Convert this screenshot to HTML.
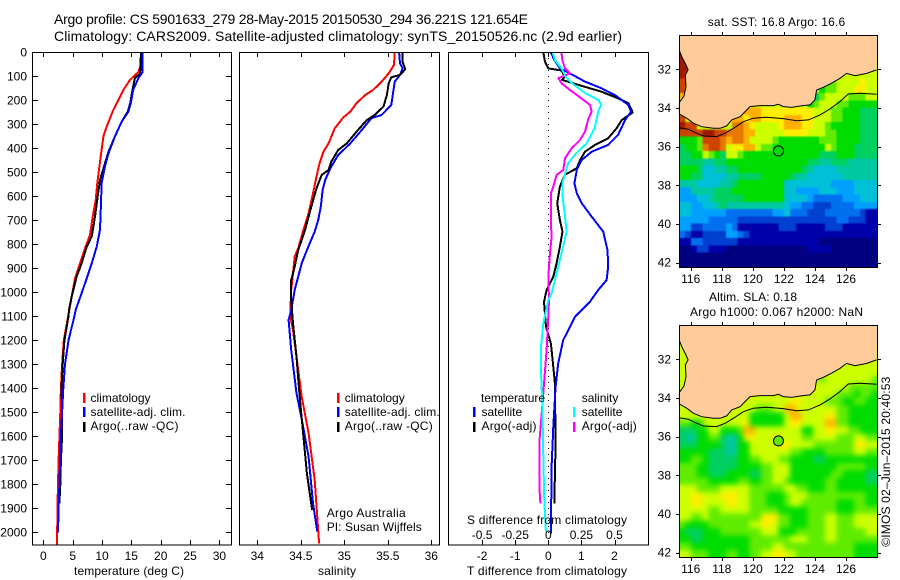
<!DOCTYPE html>
<html lang="en">
<head>
<meta charset="utf-8">
<title>Argo profile CS 5901633_279</title>
<style>
html,body{margin:0;padding:0;background:#fff;}
svg{display:block;}
text{font-family:"Liberation Sans",sans-serif;font-size:12px;fill:#000;}
</style>
</head>
<body>
<svg id="fig" width="900" height="580" viewBox="0 0 900 580" xmlns="http://www.w3.org/2000/svg">
<defs>
<filter id="sla-soften" x="0" y="0" width="1" height="1" color-interpolation-filters="sRGB"><feGaussianBlur stdDeviation="2.6" result="b"/><feMerge><feMergeNode in="SourceGraphic"/><feMergeNode in="b"/></feMerge></filter>
<filter id="sst-soften" x="0" y="0" width="1" height="1" color-interpolation-filters="sRGB"><feGaussianBlur stdDeviation="0.9" result="b"/><feMerge><feMergeNode in="SourceGraphic"/><feMergeNode in="b"/></feMerge></filter>
</defs>
<rect x="0" y="0" width="900" height="580" fill="#fff"/>
<text x="54" y="24" textLength="474" lengthAdjust="spacing" style="font-size:14px">Argo profile: CS 5901633_279 28-May-2015 20150530_294 36.221S 121.654E</text>
<text x="54" y="41" textLength="568" lengthAdjust="spacing" style="font-size:14px">Climatology: CARS2009. Satellite-adjusted climatology: synTS_20150526.nc (2.9d earlier)</text>

<g id="maps"></g>
<g id="plots"></g>
<g id="axes"></g>

<text x="74" y="575" textLength="110" lengthAdjust="spacing">temperature (deg C)</text>
<text x="318" y="575" textLength="38" lengthAdjust="spacing">salinity</text>
<text x="467" y="575" textLength="160" lengthAdjust="spacing">T difference from climatology</text>
<text x="467" y="524" textLength="160" lengthAdjust="spacing">S difference from climatology</text>

<g>
<rect x="83" y="393" width="2.5" height="10" fill="#f00"/>
<rect x="83" y="407" width="2.5" height="10" fill="#00f"/>
<rect x="83" y="422" width="2.5" height="10" fill="#000"/>
<text x="90.5" y="402">climatology</text>
<text x="90.5" y="416" textLength="95" lengthAdjust="spacing">satellite-adj. clim.</text>
<text x="90.5" y="430" textLength="88" lengthAdjust="spacing">Argo(..raw -QC)</text>
</g>
<g>
<rect x="337" y="393" width="2.5" height="10" fill="#f00"/>
<rect x="337" y="407" width="2.5" height="10" fill="#00f"/>
<rect x="337" y="422" width="2.5" height="10" fill="#000"/>
<text x="344.7" y="402">climatology</text>
<text x="344.7" y="416" textLength="95" lengthAdjust="spacing">satellite-adj. clim.</text>
<text x="344.7" y="430" textLength="88" lengthAdjust="spacing">Argo(..raw -QC)</text>
<text x="326.7" y="517" textLength="79" lengthAdjust="spacing">Argo Australia</text>
<text x="326.7" y="531" textLength="95" lengthAdjust="spacing">PI: Susan Wijffels</text>
</g>
<g>
<text x="481" y="402" textLength="64" lengthAdjust="spacing">temperature</text>
<rect x="473" y="407" width="2.5" height="10" fill="#00f"/>
<rect x="473" y="422" width="2.5" height="10" fill="#000"/>
<text x="481.5" y="416">satellite</text>
<text x="481.5" y="430" textLength="55" lengthAdjust="spacing">Argo(-adj)</text>
<text x="581.7" y="402">salinity</text>
<rect x="573" y="407" width="2.5" height="10" fill="#0ff"/>
<rect x="573" y="422" width="2.5" height="10" fill="#f0f"/>
<text x="581.7" y="416">satellite</text>
<text x="581.7" y="430" textLength="55" lengthAdjust="spacing">Argo(-adj)</text>
</g>

<text x="707.7" y="26" textLength="137.5" lengthAdjust="spacing">sat. SST: 16.8 Argo: 16.6</text>
<text x="709" y="301" textLength="88" lengthAdjust="spacing">Altim. SLA: 0.18</text>
<text x="690" y="316" textLength="173" lengthAdjust="spacing">Argo h1000: 0.067 h2000: NaN</text>
<text transform="translate(890,546.7) rotate(-90)" textLength="170" lengthAdjust="spacing">©IMOS 02–Jun–2015 20:40:53</text>
</svg>

<script>
/* ---------- temperature profiles ---------- */
const tempClimDepth = [0,50,83,115,157,199,240,282,317,351,407,476,546,615,685,761,817,879,942,1018,1074,1200,1300,1400,1500,1700,1900,2053];
const tempClimValue = [16.65,16.65,16.19,14.77,13.64,12.78,11.93,11.25,10.68,10.23,9.94,9.55,9.2,8.92,8.41,7.95,7.1,6.25,5.4,4.83,4.43,3.5,3.2,3.0,2.9,2.6,2.4,2.35];
const tempSatDepth = [0,83,108,157,212,247,289,351,421,476,546,629,740,810,879,942,1004,1074,1100,1200,1300,1400,1500,1600,1700,1800,1900,2000];
const tempSatValue = [16.9,16.9,16.2,15.3,14.9,14.5,13.35,12.2,11.1,10.5,9.94,9.83,9.66,9.1,8.24,7.4,6.53,5.5,5.3,4.3,3.7,3.4,3.2,3.0,2.85,2.75,2.6,2.5];
const tempArgoDepth = [0,53,88,108,157,212,247,289,351,414,476,532,601,685,768,810,879,935,1018,1074,1100,1200,1300,1400,1500,1600,1700,1800,1880];
const tempArgoValue = [16.65,16.55,16.5,15.6,15.2,14.8,14.4,13.35,12.2,11.1,10.34,9.66,9.26,8.8,8.24,7.4,6.53,5.68,4.83,4.38,4.3,3.6,3.3,3.1,3.2,3.2,3.0,2.9,2.75];

/* ---------- salinity profiles ---------- */
const salClimDepth = [0,53,88,122,157,178,212,247,271,317,379,414,469,518,588,671,740,817,851,921,990,1074,1102,1157,1268,1435,1587,1782,2046];
const salClimValue = [35.58,35.57,35.51,35.43,35.33,35.24,35.14,35.07,34.99,34.89,34.82,34.76,34.71,34.68,34.64,34.59,34.53,34.47,34.43,34.41,34.39,34.38,34.38,34.41,34.45,34.51,34.59,34.66,34.71];
const salSatDepth = [0,46,67,94,122,171,219,261,275,324,379,428,483,532,574,643,699,747,824,879,935,990,1074,1115,1240,1421,1546,1685,1879,1997];
const salSatValue = [35.63,35.64,35.67,35.64,35.58,35.56,35.54,35.43,35.31,35.2,35.07,34.93,34.84,34.78,34.75,34.73,34.7,34.66,34.57,34.51,34.47,34.43,34.39,34.36,34.39,34.45,34.52,34.59,34.64,34.69];
const salArgoDepth = [0,39,71,94,104,129,178,226,261,282,331,379,407,456,490,511,567,657,740,824,893,949,1032,1129,1268,1407,1560,1754,1879,1907];
const salArgoValue = [35.67,35.67,35.7,35.64,35.54,35.51,35.49,35.45,35.35,35.26,35.14,35.03,34.93,34.85,34.82,34.74,34.68,34.61,34.55,34.47,34.43,34.39,34.39,34.41,34.45,34.48,34.52,34.57,34.62,34.63];

/* ---------- differences from climatology ---------- */
const diffTSatDepth = [0,32,67,88,122,150,178,219,247,282,344,386,414,449,490,546,587,629,685,747,824,893,949,990,1039,1101,1199,1296,1393,1560,1726,2004];
const diffTSatValue = [0.08,0.18,0.35,0.65,1.11,1.61,2.01,2.42,2.5,2.32,2.11,1.81,1.31,1.01,0.86,0.79,0.86,1.01,1.31,1.66,1.79,1.81,1.76,1.51,1.26,0.81,0.45,0.3,0.22,0.15,0.1,0.08];
const diffTArgoDepth = [0,39,67,76,101,115,136,164,192,212,251,282,317,358,386,414,449,483,511,560,629,699,747,810,879,935,990,1040,1143,1213,1310,1379,1629,1879];
const diffTArgoValue = [-0.15,-0.1,0,0.4,0.5,0.42,0.91,1.61,2.11,2.42,2.55,2.22,2.06,1.81,1.41,1.11,0.96,0.86,0.5,0.35,0.27,0.35,0.43,0.35,0.25,0.15,-0.05,-0.13,-0.07,0.08,0.15,0.2,0.22,0.18];
const diffSSatDepth = [0,32,67,101,129,171,199,219,240,317,379,421,462,546,601,685,747,838,921,1004,1032,1129,1226,1337,1463,1685,1865,1997];
const diffSSatValue = [0.033,0.05,0.1,0.13,0.18,0.28,0.38,0.4,0.38,0.35,0.29,0.21,0.15,0.106,0.108,0.126,0.138,0.1,0.063,0.025,0,-0.038,-0.055,-0.055,-0.045,-0.038,-0.03,-0.018];
const diffSArgoDepth = [0,32,67,88,108,129,157,192,219,247,282,331,365,400,442,490,511,560,587,712,768,838,935,1032,1101,1240,1365,1504,1629,1810,1879];
const diffSArgoValue = [0.1,0.106,0.126,0.164,0.076,0.1,0.164,0.25,0.315,0.327,0.3,0.277,0.24,0.176,0.126,0.113,0.063,0.038,0.02,0.02,0.025,0.013,0,0.005,0,-0.013,-0.03,-0.05,-0.068,-0.068,-0.06];

/* ---------- tick labels ---------- */
const depthTicks = [0,100,200,300,400,500,600,700,800,900,1000,1100,1200,1300,1400,1500,1600,1700,1800,1900,2000];
const tempTicks = [0,5,10,15,20,25,30];
const salTicks = [34,34.5,35,35.5,36];
const diffTTicks = [-2,-1,0,1,2];
const diffSTicks = [-0.5,-0.25,0,0.25,0.5];
const diffSTickLabels = ["-0.5","-0.25","0","0.25","0.5"];
const lonTicks = [116,118,120,122,124,126];
const latTicks = [32,34,36,38,40,42];

/* ---------- map data (longitude / latitude, south positive as labelled) ---------- */
const coastLon = [115.27,115.42,115.70,115.83,115.66,115.70,115.57,115.27,115.27,115.74,116.17,116.71,117.46,117.89,118.32,118.64,119.18,119.50,119.82,120.46,121.32,121.64,121.97,122.50,123.04,123.68,124.0,124.11,124.54,124.97,125.61,126.04,126.58,127.33,127.97];
const coastLat = [31.03,31.34,31.78,32.03,32.29,32.90,33.38,33.71,34.31,34.53,34.79,34.97,35.05,35.05,34.93,34.62,34.45,34.19,33.93,33.88,33.88,33.81,33.93,33.97,33.90,33.84,33.59,33.07,32.93,32.76,32.47,32.21,32.33,32.21,32.03];
const isobathLon = [115.27,115.85,116.39,116.82,117.67,118.21,118.85,119.39,120.03,120.89,121.97,122.82,123.58,124.33,124.97,125.61,126.15,126.9,127.97];
const isobathLat = [35.03,35.10,35.31,35.45,35.48,35.31,35.0,34.71,34.53,34.48,34.55,34.66,34.62,34.36,34.05,33.67,33.28,33.24,33.29];
const floatLon = [121.654];
const floatLat = [36.221];
const gridFirstLon = 115.27;
const gridFirstLat = 30.98;
const gridStep = 0.375;

/* level index per cell, -1 = land */
const sstLevels = [
[15],
[15],
[15,15],
[15,14,-1,-1,-1,-1,-1,-1,-1,-1,-1,-1,-1,-1,-1,-1,-1,-1,-1,-1,-1,-1,-1,-1,-1,-1,-1,10,10,10,10,10,10,10],
[14,14,-1,-1,-1,-1,-1,-1,-1,-1,-1,-1,-1,-1,-1,-1,-1,-1,-1,-1,-1,-1,-1,-1,-1,9,9,10,10,10,10,11,10,10],
[14,13,-1,-1,-1,-1,-1,-1,-1,-1,-1,-1,-1,-1,-1,-1,-1,-1,-1,-1,-1,-1,-1,-1,8,9,9,10,10,10,11,11,10,10],
[12,-1,-1,-1,-1,-1,-1,-1,-1,-1,-1,-1,-1,-1,-1,-1,-1,-1,-1,-1,-1,-1,7,7,9,10,10,10,10,9,9,9,10,10],
[-1,-1,-1,-1,-1,-1,-1,-1,-1,-1,-1,-1,-1,-1,-1,-1,-1,-1,-1,-1,-1,-1,8,9,10,10,10,9,9,8,8,8,8,8],
[-1,-1,-1,-1,-1,-1,-1,-1,-1,-1,-1,12,12,12,11,11,11,11,11,11,11,11,11,10,10,10,9,9,8,8,8,7,7,7],
[14,-1,-1,-1,-1,-1,-1,-1,-1,12,12,11,12,12,11,11,11,11,12,12,12,11,11,10,10,10,9,9,8,8,8,7,7,7],
[15,14,14,-1,-1,-1,-1,-1,-1,13,13,12,11,10,10,10,10,11,12,12,12,11,11,10,10,9,8,8,8,8,8,7,7,7],
[14,14,14,14,15,15,14,14,13,13,13,12,12,10,10,10,10,10,11,11,11,11,10,10,10,9,9,8,8,8,8,7,7,7],
[8,8,8,9,14,14,14,13,12,13,13,12,10,10,10,10,9,8,8,8,8,8,8,8,9,9,9,8,8,8,8,7,7,7],
[7,8,8,9,13,14,14,13,10,11,11,12,12,10,9,9,8,8,8,8,8,8,8,8,8,10,9,8,8,8,7,7,7,7],
[7,7,8,8,10,9,8,7,10,10,9,8,8,8,8,8,8,8,8,8,8,8,8,8,7,7,7,8,8,8,7,7,7,7],
[7,7,7,7,6,6,7,7,8,8,8,8,8,8,8,8,8,8,8,8,8,8,7,7,6,6,7,7,7,6,6,6,6,6],
[8,8,8,7,5,5,6,6,7,7,8,8,8,8,8,8,8,8,8,8,8,7,6,5,5,5,5,6,6,6,6,6,6,6],
[8,8,7,7,5,5,5,5,6,6,7,7,7,7,8,8,8,8,8,7,6,6,5,5,5,5,5,5,6,6,6,6,6,6],
[6,6,6,5,5,5,5,6,6,7,8,8,8,8,8,8,8,8,5,5,5,5,5,5,5,5,4,4,4,4,5,5,5,5],
[4,4,6,6,6,6,7,7,7,8,8,8,8,8,8,8,8,8,5,5,4,4,4,4,5,5,5,4,4,4,5,5,5,5],
[4,4,4,5,5,6,7,7,7,7,7,8,8,8,8,8,8,8,5,5,5,5,4,3,3,3,3,3,4,4,4,5,5,5],
[5,5,4,4,5,5,6,7,6,6,6,6,6,6,6,6,6,6,5,4,4,3,3,2,2,2,3,3,3,3,4,4,4,4],
[5,5,4,4,4,4,4,4,3,3,3,3,3,3,3,3,4,4,5,3,3,3,2,2,2,3,3,3,3,3,3,2,1,1],
[4,4,4,4,4,3,3,3,3,3,2,2,2,2,2,2,2,2,2,2,2,2,2,2,2,2,2,3,3,2,2,2,1,1],
[4,4,2,2,3,3,3,3,4,3,1,1,1,1,1,1,1,2,2,2,1,1,1,1,1,2,2,2,1,1,1,1,1,1],
[3,2,1,1,2,2,2,2,4,4,3,2,1,1,1,1,1,1,1,1,1,1,1,1,1,1,1,1,1,1,1,1,1,1],
[1,1,3,3,2,2,2,2,2,2,1,1,1,1,1,1,1,1,1,1,1,1,1,1,0,0,0,0,0,0,0,0,0,0],
[0,0,1,2,2,1,1,1,0,0,0,0,0,0,0,0,0,0,0,0,0,0,1,1,1,1,0,0,0,0,0,0,0,0],
[0,0,0,0,0,0,0,0,0,0,0,0,0,0,0,0,0,0,0,0,0,0,0,0,0,0,0,0,0,0,0,0,0,0],
[0,0,0,0,0,0,0,0,0,0,0,0,0,0,0,0,0,0,0,0,0,0,0,0,0,0,0,0,0,0,0,0,0,0]
];
const slaLevels = [
[10],
[10],
[10,10],
[10,10,-1,-1,-1,-1,-1,-1,-1,-1,-1,-1,-1,-1,-1,-1,-1,-1,-1,-1,-1,-1,-1,-1,-1,-1,-1,10,10,10,10,10,10,10],
[10,10,-1,-1,-1,-1,-1,-1,-1,-1,-1,-1,-1,-1,-1,-1,-1,-1,-1,-1,-1,-1,-1,-1,-1,10,10,10,10,10,10,10,10,10],
[10,10,-1,-1,-1,-1,-1,-1,-1,-1,-1,-1,-1,-1,-1,-1,-1,-1,-1,-1,-1,-1,-1,-1,9,10,10,10,10,10,10,10,10,9],
[10,-1,-1,-1,-1,-1,-1,-1,-1,-1,-1,-1,-1,-1,-1,-1,-1,-1,-1,-1,-1,-1,10,10,10,10,10,10,10,9,9,9,9,9],
[-1,-1,-1,-1,-1,-1,-1,-1,-1,-1,-1,-1,-1,-1,-1,-1,-1,-1,-1,-1,-1,-1,10,10,10,10,10,9,9,9,8,9,9,8],
[-1,-1,-1,-1,-1,-1,-1,-1,-1,-1,-1,10,10,10,10,10,10,10,10,11,11,10,10,10,10,9,9,9,8,8,9,9,8,8],
[10,-1,-1,-1,-1,-1,-1,-1,-1,10,10,10,10,9,9,9,10,10,12,12,10,10,10,10,10,10,10,9,9,8,8,8,8,8],
[10,10,10,-1,-1,-1,-1,-1,-1,10,10,10,8,8,8,8,8,8,10,12,12,10,10,10,10,11,11,9,9,8,8,8,8,8],
[9,9,8,8,10,10,10,10,10,10,10,11,8,8,8,8,8,8,10,11,11,10,10,10,10,12,12,9,9,8,8,8,8,8],
[7,7,7,8,8,10,10,8,8,8,9,12,12,10,10,10,10,10,10,10,10,8,8,10,10,11,11,10,10,9,9,8,8,8],
[7,6,6,8,8,9,9,7,6,6,8,11,11,10,10,10,10,10,10,10,10,9,9,10,10,10,10,9,9,9,10,10,9,9],
[7,7,7,8,8,8,8,7,6,6,8,8,10,10,10,10,10,11,11,10,10,10,10,9,9,9,9,9,9,9,11,11,10,10],
[8,8,8,8,8,7,7,7,6,6,8,8,10,10,10,10,10,10,10,9,9,8,8,8,8,9,9,9,9,9,10,10,9,9],
[8,8,9,9,8,7,7,7,7,7,8,8,9,9,10,10,10,9,9,8,8,8,8,7,7,8,8,8,8,8,8,8,8,8],
[9,9,9,8,8,7,7,7,7,7,8,8,8,8,9,9,10,10,10,8,8,8,8,8,8,8,8,9,9,9,9,9,8,8],
[9,9,9,8,8,7,7,7,8,8,8,8,7,7,9,9,10,10,10,8,8,8,8,8,8,8,9,9,8,8,8,8,7,7],
[9,9,9,9,9,8,8,8,8,8,9,9,8,8,9,9,10,10,9,8,8,8,8,8,8,9,9,8,8,8,8,8,7,7],
[10,10,10,9,9,9,9,10,10,10,10,10,9,9,9,9,9,9,10,10,9,9,8,8,8,9,9,8,8,8,8,8,8,8],
[10,10,11,11,10,10,10,11,11,11,10,10,9,9,9,8,8,8,9,10,10,10,9,9,9,9,9,9,9,9,9,9,8,8],
[10,10,11,11,10,10,10,10,11,11,10,10,9,9,9,8,8,8,9,10,10,9,9,9,9,9,9,8,8,8,9,9,8,8],
[10,10,10,10,10,9,9,10,10,10,10,10,9,9,9,9,9,8,8,8,8,8,9,9,9,9,9,8,8,8,9,9,9,9],
[10,10,9,9,10,9,9,9,9,9,9,9,9,9,11,11,11,9,9,8,8,8,9,9,9,10,10,9,9,9,10,10,10,10],
[9,8,8,8,8,9,9,9,9,9,9,9,10,10,11,11,10,9,9,8,8,8,9,9,9,10,10,9,9,9,10,10,10,10],
[8,7,7,7,8,8,8,9,9,9,9,9,9,9,10,10,10,8,8,8,9,9,9,9,9,10,10,9,9,9,9,9,10,10],
[8,8,7,7,8,8,8,8,8,8,8,8,9,9,9,9,9,9,9,10,10,10,9,9,9,10,10,9,9,9,9,9,9,9],
[9,9,8,8,8,8,8,8,8,8,8,8,9,9,9,9,10,10,9,9,9,9,9,9,9,9,9,9,9,9,8,8,8,8],
[10,10,9,9,9,8,8,8,9,9,8,8,9,9,10,10,11,11,10,10,9,9,9,9,9,9,9,9,9,9,8,8,8,8]
];
const levelColors = ["#000080","#0000aa","#0040d0","#0070f0","#00a0ff","#00c0d8","#00c8a0","#00d060","#00dc00","#60ec00","#ccff00","#ffee00","#ffb000","#e87800","#cc4400","#a01800"];

/* ---------- axis functions ---------- */
const NS = "http://www.w3.org/2000/svg";
function depthY(d){ return 52.3 + d * 0.24; }
function tempX(t){ return 43.3 + t * 5.87; }
function salX(s){ return 257.3 + (s - 34) * 87; }
function diffTX(t){ return 548.3 + t * 33.1; }
function diffSX(s){ return 548.3 + s * 132.4; }
function lonX(lon){ return 690.7 + (lon - 116) * 15.53; }
function latY(lat, off){ return 69.3 + off + (lat - 32) * 19.33; }

function mk(tag, attrs, parent){
  const el = document.createElementNS(NS, tag);
  for (const k in attrs) el.setAttribute(k, attrs[k]);
  parent.appendChild(el);
  return el;
}

/* ---------- maps ---------- */
const mapsLayer = document.getElementById("maps");
function drawMap(levels, off, fillFloat, prefix, baseColor, filterId){
  const group = mk("g", {}, mapsLayer);
  
  
  const cells = mk("g", {filter:"url(#" + filterId + ")"}, group);
  
  
  const bg = mk("rect", {x:679.5, y:35.5+off, width:198, height:232, fill:baseColor}, cells);
  
  
  levels.forEach(function(row, r){
    row.forEach(function(v, c){
      if (v < 0) return;
      const lon = gridFirstLon + c * gridStep;
      const lat = gridFirstLat + r * gridStep;
      const x = lonX(lon), y = latY(lat, off);
      const cell = mk("rect", {x:x.toFixed(2), y:y.toFixed(2), width:(lonX(lon+gridStep)-x+0.4).toFixed(2), height:(latY(lat+gridStep,off)-y+0.4).toFixed(2), fill:levelColors[v], "shape-rendering":"crispEdges"}, cells);
      
      
    });
  });
  let pts = coastLon.map(function(lon,i){ return lonX(lon).toFixed(1)+","+latY(coastLat[i],off).toFixed(1); });
  pts.push("877.3,"+(35+off), "679.3,"+(35+off));
  const land = mk("polygon", {points:pts.join(" "), fill:"#ffcc99"}, group);
  
  
  const coastPts = coastLon.map(function(lon,i){ return lonX(lon).toFixed(1)+","+latY(coastLat[i],off).toFixed(1); }).join(" ");
  const coast = mk("polyline", {points:coastPts, fill:"none", stroke:"#000", "stroke-width":1}, group);
  
  
  const isoPts = isobathLon.map(function(lon,i){ return lonX(lon).toFixed(1)+","+latY(isobathLat[i],off).toFixed(1); }).join(" ");
  const iso = mk("polyline", {points:isoPts, fill:"none", stroke:"#000", "stroke-width":1}, group);
  
  
  const dot = mk("circle", {cx:lonX(floatLon[0]).toFixed(1), cy:latY(floatLat[0],off).toFixed(1), r:5, fill:fillFloat, stroke:"#000", "stroke-width":1}, group);
  
  
  const frame = mk("rect", {x:679.5, y:35.5+off, width:198, height:232, fill:"none", stroke:"#000", "stroke-width":1, "shape-rendering":"crispEdges"}, group);
  
  
  lonTicks.forEach(function(lon){
    const x = Math.round(lonX(lon)) + 0.5;
    const tTop = mk("path", {d:"M"+x+" "+(35+off)+"V"+(32+off)+"M"+x+" "+(268+off)+"V"+(271+off), stroke:"#000", "stroke-width":1, fill:"none", "shape-rendering":"crispEdges"}, group);
    
    
    const lab = mk("text", {x:lonX(lon).toFixed(1), y:283+off, "text-anchor":"middle"}, group);
    
    
    lab.textContent = String(lon);
  });
  latTicks.forEach(function(lat){
    const y = Math.round(latY(lat,off)) + 0.5;
    const tick = mk("path", {d:"M679 "+y+"H676M878 "+y+"H881", stroke:"#000", "stroke-width":1, fill:"none", "shape-rendering":"crispEdges"}, group);
    
    
    const lab = mk("text", {x:671, y:(latY(lat,off)+4).toFixed(1), "text-anchor":"end"}, group);
    
    
    lab.textContent = String(lat);
  });
}
drawMap(sstLevels, 0, "#00dc00", "sst", "#ccff00", "sst-soften");
drawMap(slaLevels, 290, "#60ec00", "sla", "#ccff00", "sla-soften");

/* ---------- profile lines ---------- */
const plots = document.getElementById("plots");
function drawProfile(name, depths, values, xf, color, w){
  const pts = values.map(function(v,i){ return xf(v).toFixed(1)+","+depthY(depths[i]).toFixed(1); }).join(" ");
  const line = mk("polyline", {points:pts, fill:"none", stroke:color, "stroke-width":w, "stroke-linejoin":"round", "shape-rendering":"crispEdges"}, plots);
  
  
}
drawProfile("temperature-climatology-line", tempClimDepth, tempClimValue, tempX, "#f00", 2);
drawProfile("temperature-argo-line", tempArgoDepth, tempArgoValue, tempX, "#000", 2);
drawProfile("temperature-satellite-line", tempSatDepth, tempSatValue, tempX, "#00f", 2);
drawProfile("salinity-climatology-line", salClimDepth, salClimValue, salX, "#f00", 2);
drawProfile("salinity-satellite-line", salSatDepth, salSatValue, salX, "#00f", 2);
drawProfile("salinity-argo-line", salArgoDepth, salArgoValue, salX, "#000", 2);

const zero = mk("line", {x1:diffTX(0), x2:diffTX(0), y1:52, y2:534, stroke:"#000", "stroke-width":1, "stroke-dasharray":"1 5", "shape-rendering":"crispEdges"}, plots);


drawProfile("t-difference-argo-line", diffTArgoDepth, diffTArgoValue, diffTX, "#000", 2);
drawProfile("t-difference-satellite-line", diffTSatDepth, diffTSatValue, diffTX, "#00f", 2);
drawProfile("s-difference-argo-line", diffSArgoDepth, diffSArgoValue, diffSX, "#f0f", 2);
drawProfile("s-difference-satellite-line", diffSSatDepth, diffSSatValue, diffSX, "#0ff", 2);

/* ---------- axes ---------- */
const axes = document.getElementById("axes");
function drawPanel(name, left, right){
  const box = mk("rect", {x:left, y:52.5, width:right-left, height:492.5, fill:"none", stroke:"#000", "stroke-width":1, "shape-rendering":"crispEdges"}, axes);
  
  
}
function xTicks(ticks, labels, xf, name){
  ticks.forEach(function(v,i){
    const x = Math.round(xf(v)) + 0.5;
    const t = mk("path", {d:"M"+x+" 53V57M"+x+" 545V540", stroke:"#000", "stroke-width":1, fill:"none", "shape-rendering":"crispEdges"}, axes);
    
    
    const lab = mk("text", {x:xf(v).toFixed(1), y:560, "text-anchor":"middle"}, axes);
    
    
    lab.textContent = labels[i];
  });
}
drawPanel("temperature-panel", 32.5, 231.5);
drawPanel("salinity-panel", 239.5, 439.5);
drawPanel("difference-panel", 448.5, 648.5);
xTicks(tempTicks, tempTicks.map(String), tempX, "temperature-axis");
xTicks(salTicks, salTicks.map(String), salX, "salinity-axis");
xTicks(diffTTicks, diffTTicks.map(String), diffTX, "t-difference-axis");
depthTicks.forEach(function(d){
  const y = Math.round(depthY(d)) + 0.5;
  const t = mk("path", {d:"M33 "+y+"H38M231 "+y+"H226", stroke:"#000", "stroke-width":1, fill:"none", "shape-rendering":"crispEdges"}, axes);
  
  
  const lab = mk("text", {x:27, y:(depthY(d)+4).toFixed(1), "text-anchor":"end"}, axes);
  
  
  lab.textContent = String(d);
});
diffSTicks.forEach(function(s,i){
  const lab = mk("text", {x:diffSX(s).toFixed(1), y:539, "text-anchor":"middle"}, axes);
  
  
  lab.textContent = diffSTickLabels[i];
});
</script>
</body>
</html>
